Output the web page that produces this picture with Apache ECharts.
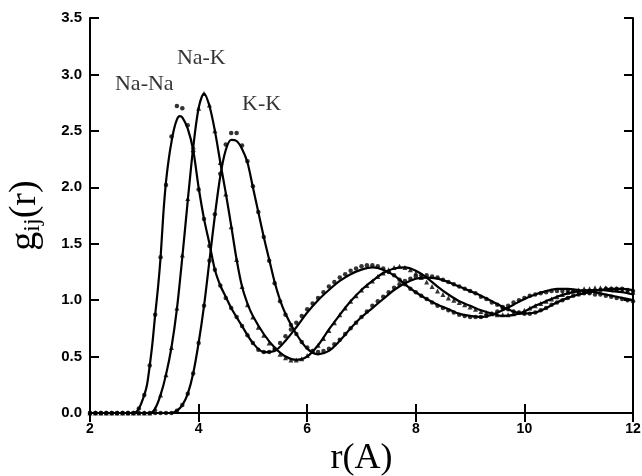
<!DOCTYPE html>
<html>
<head>
<meta charset="utf-8">
<script src="https://cdn.jsdelivr.net/npm/echarts@6/dist/echarts.min.js"></script>
<style>
  html, body { margin: 0; padding: 0; background: #fff; }
  #chart { width: 642px; height: 476px; }
</style>
</head>
<body>
<div id="chart"></div>
<script>
// g_ij(r) pair distribution functions for liquid Na-K
// solid lines = theory, markers = simulation

// theory curves
const naNaR = [2.0, 2.6, 2.8, 2.9, 3.0, 3.05, 3.1, 3.15, 3.2, 3.25, 3.3, 3.35, 3.4, 3.45, 3.5, 3.55, 3.6, 3.65, 3.7, 3.8, 3.9, 4.0, 4.1, 4.2, 4.3, 4.4, 4.5, 4.6, 4.8, 5.0, 5.2, 5.4, 5.6, 5.8, 6.0, 6.2, 6.4, 6.6, 6.8, 7.0, 7.2, 7.4, 7.6, 7.8, 8.0, 8.2, 8.4, 8.6, 8.8, 9.0, 9.2, 9.4, 9.6, 9.8, 10.0, 10.2, 10.4, 10.6, 10.8, 11.0, 11.2, 11.4, 11.6, 11.8, 12.0];
const naNaG = [0, 0, 0, 0.04, 0.16, 0.25, 0.42, 0.62, 0.87, 1.1, 1.38, 1.76, 2.05, 2.25, 2.4, 2.52, 2.6, 2.63, 2.62, 2.52, 2.33, 2.0, 1.72, 1.5, 1.27, 1.13, 1.03, 0.93, 0.77, 0.62, 0.54, 0.55, 0.64, 0.76, 0.89, 1.0, 1.09, 1.17, 1.23, 1.27, 1.29, 1.27, 1.22, 1.14, 1.07, 1.01, 0.96, 0.92, 0.88, 0.86, 0.85, 0.87, 0.91, 0.96, 1.01, 1.05, 1.08, 1.1, 1.1, 1.09, 1.08, 1.06, 1.04, 1.02, 1.0];

const naKR = [2.0, 3.1, 3.2, 3.3, 3.4, 3.5, 3.6, 3.7, 3.8, 3.9, 4.0, 4.1, 4.2, 4.3, 4.4, 4.5, 4.6, 4.7, 4.8, 4.9, 5.0, 5.2, 5.4, 5.6, 5.8, 6.0, 6.2, 6.4, 6.6, 6.8, 7.0, 7.2, 7.4, 7.6, 7.8, 8.0, 8.2, 8.4, 8.6, 8.8, 9.0, 9.2, 9.4, 9.6, 9.8, 10.0, 10.2, 10.4, 10.6, 10.8, 11.0, 11.2, 11.4, 11.6, 11.8, 12.0];
const naKG = [0, 0, 0.04, 0.16, 0.34, 0.58, 0.92, 1.38, 1.88, 2.35, 2.7, 2.83, 2.72, 2.5, 2.22, 1.95, 1.66, 1.36, 1.12, 0.97, 0.86, 0.7, 0.58, 0.5, 0.47, 0.5, 0.6, 0.74, 0.87, 0.99, 1.09, 1.17, 1.24, 1.28, 1.29, 1.26, 1.2, 1.12, 1.05, 0.99, 0.95, 0.91, 0.88, 0.86, 0.87, 0.9, 0.95, 0.99, 1.03, 1.06, 1.08, 1.09, 1.09, 1.08, 1.07, 1.05];

const kkR = [2.0, 3.5, 3.6, 3.7, 3.8, 3.9, 4.0, 4.1, 4.2, 4.3, 4.4, 4.5, 4.6, 4.7, 4.8, 4.9, 5.0, 5.1, 5.2, 5.3, 5.4, 5.5, 5.6, 5.8, 6.0, 6.2, 6.4, 6.6, 6.8, 7.0, 7.2, 7.4, 7.6, 7.8, 8.0, 8.2, 8.4, 8.6, 8.8, 9.0, 9.2, 9.4, 9.6, 9.8, 10.0, 10.2, 10.4, 10.6, 10.8, 11.0, 11.2, 11.4, 11.6, 11.8, 12.0];
const kkG = [0, 0, 0.02, 0.07, 0.17, 0.35, 0.62, 0.95, 1.35, 1.75, 2.1, 2.33, 2.42, 2.41, 2.34, 2.22, 2.0, 1.78, 1.56, 1.36, 1.16, 1.0, 0.88, 0.7, 0.57, 0.52, 0.55, 0.64, 0.75, 0.85, 0.93, 1.01, 1.09, 1.15, 1.19, 1.2, 1.19, 1.16, 1.12, 1.08, 1.04, 0.99, 0.94, 0.9, 0.88, 0.89, 0.93, 0.98, 1.02, 1.05, 1.07, 1.09, 1.1, 1.1, 1.09];

// simulation points, shared r grid
const dotR = [2.0, 2.1, 2.2, 2.3, 2.4, 2.5, 2.6, 2.7, 2.8, 2.9, 3.0, 3.1, 3.2, 3.3, 3.4, 3.5, 3.6, 3.7, 3.8, 3.9, 4.0, 4.1, 4.2, 4.3, 4.4, 4.5, 4.6, 4.7, 4.8, 4.9, 5.0, 5.1, 5.2, 5.3, 5.4, 5.5, 5.6, 5.7, 5.8, 5.9, 6.0, 6.1, 6.2, 6.3, 6.4, 6.5, 6.6, 6.7, 6.8, 6.9, 7.0, 7.1, 7.2, 7.3, 7.4, 7.5, 7.6, 7.7, 7.8, 7.9, 8.0, 8.1, 8.2, 8.3, 8.4, 8.5, 8.6, 8.7, 8.8, 8.9, 9.0, 9.1, 9.2, 9.3, 9.4, 9.5, 9.6, 9.7, 9.8, 9.9, 10.0, 10.1, 10.2, 10.3, 10.4, 10.5, 10.6, 10.7, 10.8, 10.9, 11.0, 11.1, 11.2, 11.3, 11.4, 11.5, 11.6, 11.7, 11.8, 11.9, 12.0];
const naNaDots = [0, 0, 0, 0, 0, 0, 0, 0, 0, 0.04, 0.16, 0.42, 0.87, 1.38, 2.02, 2.45, 2.72, 2.7, 2.55, 2.32, 1.98, 1.72, 1.48, 1.27, 1.13, 1.02, 0.93, 0.85, 0.77, 0.69, 0.62, 0.56, 0.54, 0.54, 0.57, 0.62, 0.68, 0.74, 0.8, 0.86, 0.92, 0.97, 1.02, 1.07, 1.12, 1.16, 1.2, 1.23, 1.26, 1.28, 1.3, 1.31, 1.31, 1.3, 1.28, 1.25, 1.22, 1.18, 1.14, 1.1, 1.07, 1.04, 1.01, 0.98, 0.95, 0.93, 0.91, 0.89, 0.87, 0.86, 0.85, 0.85, 0.85, 0.86, 0.88, 0.9, 0.93, 0.95, 0.98, 1.0, 1.02, 1.04, 1.05, 1.06, 1.07, 1.08, 1.08, 1.08, 1.08, 1.08, 1.07, 1.07, 1.06, 1.05, 1.05, 1.04, 1.03, 1.02, 1.01, 1.0, 0.99];
const naKDots = [0, 0, 0, 0, 0, 0, 0, 0, 0, 0, 0, 0, 0.04, 0.16, 0.34, 0.58, 0.93, 1.4, 1.9, 2.36, 2.7, 2.83, 2.73, 2.5, 2.22, 1.94, 1.65, 1.36, 1.12, 0.96, 0.85, 0.76, 0.69, 0.62, 0.57, 0.52, 0.49, 0.47, 0.47, 0.48, 0.51, 0.55, 0.6, 0.66, 0.73, 0.8, 0.87, 0.93, 0.99, 1.04, 1.09, 1.13, 1.17, 1.21, 1.24, 1.27, 1.29, 1.3, 1.29, 1.27, 1.24, 1.2, 1.16, 1.12, 1.08, 1.05, 1.02, 1.0, 0.98, 0.96, 0.94, 0.92, 0.9, 0.89, 0.88, 0.87, 0.87, 0.87, 0.88, 0.89, 0.91, 0.93, 0.95, 0.97, 0.99, 1.01, 1.03, 1.05, 1.07, 1.08, 1.09, 1.1, 1.1, 1.11, 1.11, 1.11, 1.1, 1.1, 1.09, 1.08, 1.07];
const kkDots = [0, 0, 0, 0, 0, 0, 0, 0, 0, 0, 0, 0, 0, 0, 0, 0, 0.02, 0.07, 0.17, 0.35, 0.62, 0.95, 1.35, 1.76, 2.12, 2.38, 2.48, 2.48, 2.37, 2.23, 2.01, 1.78, 1.56, 1.35, 1.15, 0.99, 0.87, 0.78, 0.7, 0.63, 0.58, 0.55, 0.54, 0.55, 0.57, 0.61, 0.65, 0.7, 0.75, 0.8, 0.85, 0.9, 0.95, 0.99, 1.03, 1.07, 1.11, 1.14, 1.17, 1.19, 1.21, 1.22, 1.22, 1.21, 1.2, 1.18, 1.16, 1.14, 1.12, 1.1, 1.08, 1.06, 1.03, 1.01, 0.98, 0.96, 0.94, 0.92, 0.9, 0.89, 0.88, 0.88, 0.89, 0.91, 0.93, 0.96, 0.98, 1.0, 1.02, 1.04, 1.05, 1.06, 1.07, 1.08, 1.09, 1.1, 1.1, 1.1, 1.1, 1.09, 1.08];

// curve labels, placed in data coordinates
const labelNames = ['Na-Na', 'Na-K', 'K-K'];
const labelR = [3.0, 4.05, 5.16];
const labelG = [2.91, 3.14, 2.74];

const xTicks = { min: 2, max: 12, interval: 2 };
const yTicks = { min: 0, max: 3.5, interval: 0.5 };

const zip = (xs, ys) => xs.map((x, i) => [x, ys[i]]);

const serif = '"Liberation Serif", "DejaVu Serif", serif';
const sans = '"Liberation Sans", Arial, sans-serif';

const axisCommon = {
    axisLine: { show: true, lineStyle: { color: '#000', width: 2 } },
    axisTick: { show: true, inside: true, length: 9, lineStyle: { color: '#000', width: 2 } },
    splitLine: { show: false }
};

const lineSeries = (name, xs, ys) => ({
    name, type: 'line', data: zip(xs, ys), smooth: 0.3, showSymbol: false,
    lineStyle: { color: '#000', width: 2.2 }, z: 3
});
const dotSeries = (name, ys, symbol, size) => ({
    name, type: 'scatter', data: zip(dotR, ys), symbol, symbolSize: size,
    itemStyle: { color: '#000' }, z: 4
});

const chart = echarts.init(document.getElementById('chart'));
chart.setOption({
    animation: false,
    backgroundColor: '#fff',
    grid: { left: 90, right: 9, top: 18, bottom: 63, containLabel: false, outerBoundsMode: 'none' },
    xAxis: [
        Object.assign({
            type: 'value', position: 'bottom', ...xTicks,
            name: 'r(A)', nameLocation: 'middle', nameGap: 24,
            nameTextStyle: { fontFamily: serif, fontSize: 36, color: '#000', verticalAlign: 'top' },
            axisLabel: { color: '#000', fontFamily: sans, fontWeight: 'bold', fontSize: 14, margin: 9 }
        }, axisCommon),
        Object.assign({
            type: 'value', position: 'top', ...xTicks,
            axisLabel: { show: false }
        }, axisCommon)
    ],
    yAxis: [
        Object.assign({
            type: 'value', position: 'left', ...yTicks,
            name: 'g{sub|ij}(r)', nameLocation: 'middle', nameGap: 45, nameRotate: 90,
            nameTextStyle: {
                fontFamily: serif, fontSize: 38, color: '#000',
                rich: { sub: { fontFamily: serif, fontSize: 24, color: '#000', verticalAlign: 'bottom', padding: [16, 0, 0, 0] } }
            },
            axisLabel: { color: '#000', fontFamily: sans, fontWeight: 'bold', fontSize: 15, margin: 8,
                formatter: v => v.toFixed(1) }
        }, axisCommon),
        Object.assign({
            type: 'value', position: 'right', ...yTicks,
            axisLabel: { show: false }
        }, axisCommon)
    ],
    series: [
        lineSeries('Na-Na', naNaR, naNaG),
        lineSeries('Na-K', naKR, naKG),
        lineSeries('K-K', kkR, kkG),
        dotSeries('Na-Na sim', naNaDots, 'circle', 4.5),
        dotSeries('Na-K sim', naKDots, 'triangle', 5),
        dotSeries('K-K sim', kkDots, 'circle', 4.5),
        {
            type: 'scatter', symbolSize: 0, silent: true,
            data: labelNames.map((n, i) => ({ value: [labelR[i], labelG[i]], name: n })),
            label: { show: true, position: 'inside', formatter: p => p.name,
                fontFamily: serif, fontSize: 22, color: '#000' }
        }
    ]
});
</script>
</body>
</html>
